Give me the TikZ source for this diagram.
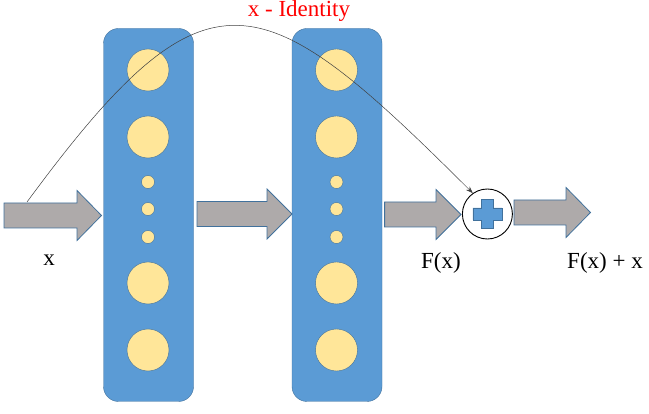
\documentclass[tikz,border=0pt]{standalone}
\usepackage{fontspec}
\setmainfont{Liberation Serif}
\usetikzlibrary{arrows.meta}

\definecolor{layerblue}{HTML}{5B9BD5}
\definecolor{edgeblue}{HTML}{41719C}
\definecolor{unitfill}{HTML}{FFE699}
\definecolor{arrowgray}{HTML}{AEAAAA}
\definecolor{skipred}{HTML}{FF0000}

\begin{document}
\begin{tikzpicture}[x=1pt,y=-1pt,>=Stealth,
    layer/.style={rectangle,rounded corners=15pt,draw=edgeblue,fill=layerblue,
                  minimum width=90pt,minimum height=373pt,inner sep=0pt},
    unit/.style={circle,draw=edgeblue,fill=unitfill,minimum size=42pt,inner sep=0pt},
    dot unit/.style={unit,minimum size=13pt},
    fat arrow/.style={draw=edgeblue,fill=arrowgray,line width=0.8pt},
    tag/.style={font=\fontsize{23}{27}\selectfont,anchor=base,inner sep=0pt}]

  \useasboundingbox (0,0) rectangle (649,414);

  % the two layers
  \node[layer] (L1) at (148.5,215) {};
  \node[layer] (L2) at (337,215) {};

  % units of each layer
  \foreach \l/\x in {1/148,2/336.5} {
    \foreach \i/\y in {1/70,2/137,6/283,7/350}
      \node[unit] (u\l\i) at (\x,\y) {};
    \foreach \i/\y in {3/182,4/209,5/237}
      \node[dot unit] (u\l\i) at (\x,\y) {};
  }

  % data flow arrows
  \foreach \xs/\xh/\xe/\yc in {4/77/101.5/215.5, 197/267/292/214,
                               384.6/436/461/214.5, 514/566/590.5/212.5}
    \draw[fat arrow] (\xs,\yc-12.5) -- (\xh,\yc-12.5) -- (\xh,\yc-25) -- (\xe,\yc)
      -- (\xh,\yc+25) -- (\xh,\yc+12.5) -- (\xs,\yc+12.5) -- cycle;

  % addition
  \node[circle,draw,line width=0.9pt,fill=white,minimum size=50pt,inner sep=0pt] (sum) at (487.4,214) {};
  \begin{scope}[shift={(sum.center)}]
    \draw[draw=edgeblue,fill=layerblue] (-6,-14.5) -- (6,-14.5) -- (6,-6) -- (14.5,-6)
      -- (14.5,6) -- (6,6) -- (6,14.5) -- (-6,14.5) -- (-6,6) -- (-14.5,6)
      -- (-14.5,-6) -- (-6,-6) -- cycle;
  \end{scope}

  % identity shortcut
  \coordinate (skip) at (27,202);
  \draw[-{Stealth[length=7pt,width=5pt]},line width=0.5pt,draw=black!75]
    (skip) .. controls (208,-44) and (260,-19) .. (sum.125);

  % labels
  \node[tag,text=skipred] (id) at (299,17) {x - Identity};
  \node[tag] (in) at (49,266) {x};
  \node[tag] (fx) at (441,269) {F(x)};
  \node[tag] (out) at (605,269) {F(x) + x};
\end{tikzpicture}
\end{document}
